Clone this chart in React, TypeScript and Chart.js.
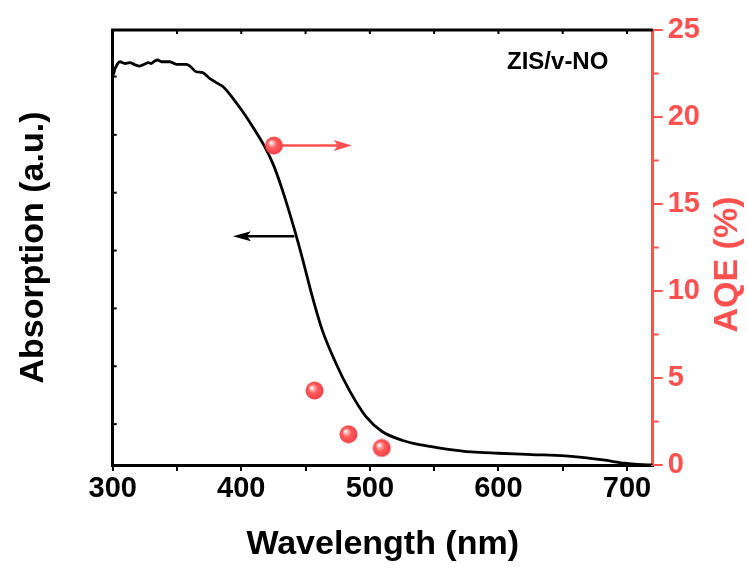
import React, { useEffect, useRef } from 'react';
import { Chart, registerables } from 'chart.js';

Chart.register(...registerables);

// ---- data ----
const wavelength = [300.5, 302, 305.7, 309.5, 313.4, 317.3, 321, 325, 327.6, 330, 332.8, 335, 338, 344.4, 349.6, 357.4, 360, 365, 370, 375.4, 380.6, 385.7, 393.5, 401.2, 409, 418, 425, 432, 441, 448, 455, 463, 473.6, 484, 497, 509.5, 525, 540, 561, 579, 600, 626, 652, 667, 683, 698, 716, 720];
const absorption = [0.897, 0.912, 0.927, 0.923, 0.925, 0.920, 0.917, 0.922, 0.925, 0.923, 0.929, 0.931, 0.927, 0.927, 0.921, 0.921, 0.917, 0.904, 0.902, 0.889, 0.879, 0.870, 0.843, 0.812, 0.777, 0.733, 0.690, 0.632, 0.545, 0.470, 0.390, 0.310, 0.234, 0.172, 0.111, 0.077, 0.057, 0.046, 0.036, 0.030, 0.027, 0.024, 0.021, 0.017, 0.011, 0.004, 0.0, 0.0];

const aqeWavelength = [425.4, 457, 483.4, 509.3];
const aqeValues = [18.36, 4.28, 1.77, 0.98];

const xTickLabels = [300, 400, 500, 600, 700];
const aqeTickLabels = [0, 5, 10, 15, 20, 25];
const leftTicks = [0.094, 0.227, 0.36, 0.493, 0.626, 0.759, 0.893];

const redArrow = { from: 425.4, to: 486, y: 18.36 };
const blackArrow = { from: 441.3, to: 393.5, y: 0.526 };

const sampleLabel = 'ZIS/v-NO';
const xTitle = 'Wavelength (nm)';
const leftTitle = 'Absorption (a.u.)';
const rightTitle = 'AQE (%)';

const RED = '#FF5050';
const FAMILY = "'Liberation Sans', Arial, sans-serif";

function drawArrow(ctx: CanvasRenderingContext2D, x0: number, x1: number, y: number, color: string, lw: number, headLen: number, headHalf: number) {
  const dir = Math.sign(x1 - x0);
  ctx.save();
  ctx.strokeStyle = color;
  ctx.fillStyle = color;
  ctx.lineWidth = lw;
  ctx.beginPath();
  ctx.moveTo(x0, y);
  ctx.lineTo(x1 - dir * headLen * 0.7, y);
  ctx.stroke();
  ctx.beginPath();
  ctx.moveTo(x1, y);
  ctx.lineTo(x1 - dir * headLen, y - headHalf);
  ctx.lineTo(x1 - dir * headLen * 0.78, y);
  ctx.lineTo(x1 - dir * headLen, y + headHalf);
  ctx.closePath();
  ctx.fill();
  ctx.restore();
}

function makeSphere(): HTMLCanvasElement {
  const c = document.createElement('canvas');
  c.width = 19;
  c.height = 19;
  const g = c.getContext('2d')!;
  const grad = g.createRadialGradient(6.5, 6.5, 0.5, 9.5, 9.5, 9.5);
  grad.addColorStop(0, '#ffffff');
  grad.addColorStop(0.18, '#ffb3b3');
  grad.addColorStop(0.45, '#ff5c5c');
  grad.addColorStop(0.85, '#f4454b');
  grad.addColorStop(1, '#e23a40');
  g.fillStyle = grad;
  g.beginPath();
  g.arc(9.5, 9.5, 9, 0, Math.PI * 2);
  g.fill();
  return c;
}

const decor = {
  id: 'decor',
  beforeDatasetsDraw(chart: any) {
    const { ctx, scales } = chart;
    const x = scales.x, yL = scales.y, yR = scales.y1;
    drawArrow(ctx, x.getPixelForValue(redArrow.from), x.getPixelForValue(redArrow.to), yR.getPixelForValue(redArrow.y), RED, 2.5, 18, 5.5);
    drawArrow(ctx, x.getPixelForValue(blackArrow.from), x.getPixelForValue(blackArrow.to), yL.getPixelForValue(blackArrow.y), '#000', 2.5, 18, 5);
  },
  afterDraw(chart: any) {
    const { ctx, chartArea, scales } = chart;
    const { left, right, top, bottom } = chartArea;
    ctx.save();
    // top frame line
    ctx.strokeStyle = '#000';
    ctx.lineWidth = 3;
    ctx.beginPath();
    ctx.moveTo(left - 1.5, top);
    ctx.lineTo(right, top);
    ctx.stroke();
    // top inward ticks
    ctx.lineWidth = 2;
    scales.x.ticks.forEach((t: any) => {
      const px = scales.x.getPixelForValue(t.value);
      if (px <= left + 2 || px >= right - 2) return;
      ctx.beginPath();
      ctx.moveTo(px, top);
      ctx.lineTo(px, top + 4);
      ctx.stroke();
    });
    // left inward ticks
    leftTicks.forEach((v) => {
      const py = scales.y.getPixelForValue(v);
      ctx.beginPath();
      ctx.moveTo(left, py);
      ctx.lineTo(left + 4, py);
      ctx.stroke();
    });
    // right minor ticks
    ctx.strokeStyle = RED;
    scales.y1.ticks.forEach((t: any) => {
      if (t.value % 5 === 0) return;
      const py = scales.y1.getPixelForValue(t.value);
      ctx.beginPath();
      ctx.moveTo(right, py);
      ctx.lineTo(right + 6, py);
      ctx.stroke();
    });
    // sample label
    ctx.fillStyle = '#000';
    ctx.font = `bold 24px ${FAMILY}`;
    ctx.textAlign = 'center';
    ctx.textBaseline = 'middle';
    ctx.fillText(sampleLabel, right - 95, top + 32);
    // right title
    ctx.fillStyle = RED;
    ctx.font = `bold 34px ${FAMILY}`;
    ctx.translate(right + 75, (top + bottom) / 2 + 17);
    ctx.rotate(-Math.PI / 2);
    ctx.fillText(rightTitle, 0, 0);
    ctx.restore();
  },
};

export default function App() {
  const ref = useRef<HTMLCanvasElement>(null);
  useEffect(() => {
    if (!ref.current) return;
    const sphere = makeSphere();
    const chart = new Chart(ref.current, {
      type: 'scatter',
      data: {
        datasets: [
          {
            label: 'Absorption',
            data: wavelength.map((w, i) => ({ x: w, y: absorption[i] })),
            yAxisID: 'y',
            showLine: true,
            borderColor: '#000',
            borderWidth: 2.8,
            pointRadius: 0,
            cubicInterpolationMode: 'monotone',
            order: 2,
          },
          {
            label: 'AQE',
            data: aqeWavelength.map((w, i) => ({ x: w, y: aqeValues[i] })),
            yAxisID: 'y1',
            showLine: false,
            pointStyle: sphere as any,
            pointRadius: 9,
            order: 1,
          },
        ],
      },
      options: {
        animation: false,
        responsive: false,
        layout: { padding: { top: 30, left: 0, right: 0, bottom: 0 } },
        plugins: { legend: { display: false }, tooltip: { enabled: false } },
        scales: {
          x: {
            type: 'linear',
            position: 'bottom',
            min: 300,
            max: 720,
            afterFit: (s: any) => { s.height = 103; },
            border: { color: '#000', width: 3 },
            grid: { drawOnChartArea: false, drawTicks: true, tickLength: 6, lineWidth: 2, color: '#000' },
            ticks: {
              stepSize: 50,
              includeBounds: false,
              autoSkip: false,
              maxRotation: 0,
              padding: 1,
              color: '#000',
              font: { family: FAMILY, size: 29, weight: 'bold' },
              callback: (v: any) => (xTickLabels.includes(Number(v)) ? String(v) : ''),
            },
            title: { display: true, text: xTitle, color: '#000', font: { family: FAMILY, size: 34, weight: 'bold' }, padding: { top: 0, bottom: 3 } },
          },
          y: {
            position: 'left',
            min: 0,
            max: 1,
            afterFit: (s: any) => { s.width = 112.7; },
            border: { color: '#000', width: 3 },
            grid: { drawOnChartArea: false, drawTicks: false },
            ticks: { display: false },
            title: { display: true, text: leftTitle, color: '#000', font: { family: FAMILY, size: 34, weight: 'bold' }, padding: { top: 13, bottom: 0 } },
          },
          y1: {
            position: 'right',
            min: 0,
            max: 25,
            afterFit: (s: any) => { s.width = 95.3; },
            border: { color: RED, width: 3 },
            grid: {
              drawOnChartArea: false,
              drawTicks: true,
              tickLength: 10,
              lineWidth: 2,
              color: (c: any) => (c.tick && c.tick.value % 5 === 0 ? RED : 'rgba(0,0,0,0)'),
            },
            ticks: {
              stepSize: 2.5,
              autoSkip: false,
              padding: 5,
              color: RED,
              font: { family: FAMILY, size: 29, weight: 'bold' },
              callback: (v: any) => (aqeTickLabels.includes(Number(v)) ? String(v) : ''),
            },
          },
        },
      },
      plugins: [decor],
    } as any);
    return () => chart.destroy();
  }, []);
  return (
    <div style={{ position: 'absolute', left: 0, top: 0, width: 748, height: 568, background: '#fff' }}>
      <canvas ref={ref} width={748} height={568} style={{ display: 'block' }} />
    </div>
  );
}
